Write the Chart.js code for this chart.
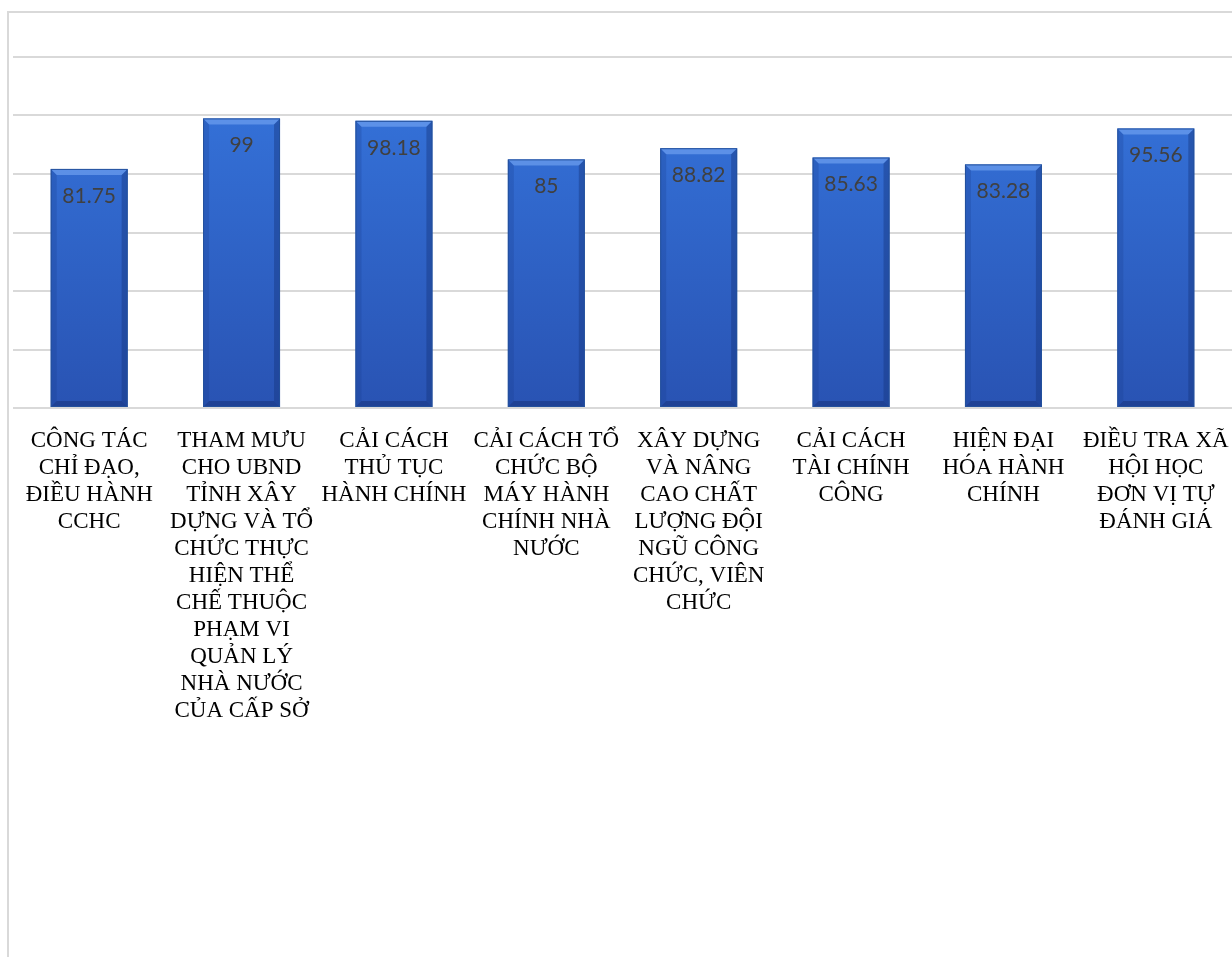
<!DOCTYPE html>
<html>
<head>
<meta charset="utf-8">
<script src="https://cdn.jsdelivr.net/npm/chart.js@4.4.1/dist/chart.umd.min.js"></script>
<style>
  html, body { margin: 0; padding: 0; background: #fff; overflow: hidden; }
  #frame {
    position: absolute; left: 7px; top: 11px; width: 1300px; height: 1000px;
    border-left: 2px solid #d9d9d9; border-top: 2px solid #d9d9d9;
  }
  #wrap { position: absolute; left: 13px; top: 13px; width: 1219px; height: 944px; }
</style>
</head>
<body>
<div id="frame"></div>
<div id="wrap"><canvas id="myChart"></canvas></div>
<script>
// categories (line breaks as in the picture)
var categories = [
  ['CÔNG TÁC', 'CHỈ ĐẠO,', 'ĐIỀU HÀNH', 'CCHC'],
  ['THAM MƯU', 'CHO UBND', 'TỈNH XÂY', 'DỰNG VÀ TỔ', 'CHỨC THỰC', 'HIỆN THỂ', 'CHẾ THUỘC', 'PHẠM VI', 'QUẢN LÝ', 'NHÀ NƯỚC', 'CỦA CẤP SỞ'],
  ['CẢI CÁCH', 'THỦ TỤC', 'HÀNH CHÍNH'],
  ['CẢI CÁCH TỔ', 'CHỨC BỘ', 'MÁY HÀNH', 'CHÍNH NHÀ', 'NƯỚC'],
  ['XÂY DỰNG', 'VÀ NÂNG', 'CAO CHẤT', 'LƯỢNG ĐỘI', 'NGŨ CÔNG', 'CHỨC, VIÊN', 'CHỨC'],
  ['CẢI CÁCH', 'TÀI CHÍNH', 'CÔNG'],
  ['HIỆN ĐẠI', 'HÓA HÀNH', 'CHÍNH'],
  ['ĐIỀU TRA XÃ', 'HỘI HỌC', 'ĐƠN VỊ TỰ', 'ĐÁNH GIÁ']
];
var scores = [81.75, 99, 98.18, 85, 88.82, 85.63, 83.28, 95.56];
var scoreText = ['81.75', '99', '98.18', '85', '88.82', '85.63', '83.28', '95.56'];

var yMin = 0, yMax = 120, yStep = 20;

function barFill(context) {
  var chart = context.chart;
  var area = chart.chartArea;
  if (!area) return '#2f66cc';
  var g = chart.ctx.createLinearGradient(0, area.top, 0, area.bottom);
  g.addColorStop(0, '#3676de');
  g.addColorStop(1, '#2953b3');
  return g;
}

// bevel look + value labels drawn on top of the bars
var bevelPlugin = {
  id: 'bevel',
  afterDatasetsDraw: function(chart) {
    var ctx = chart.ctx;
    var meta = chart.getDatasetMeta(0);
    meta.data.forEach(function(bar, i) {
      var w = bar.width, x0 = bar.x - w / 2, x1 = bar.x + w / 2;
      var top = bar.y, bot = bar.base;
      var b = 6;
      ctx.save();
      // top bevel
      ctx.fillStyle = 'rgba(110,160,240,0.7)';
      ctx.beginPath();
      ctx.moveTo(x0, top); ctx.lineTo(x1, top);
      ctx.lineTo(x1 - b, top + b); ctx.lineTo(x0 + b, top + b);
      ctx.closePath(); ctx.fill();
      // left edge
      ctx.fillStyle = 'rgba(25,60,140,0.25)';
      ctx.beginPath();
      ctx.moveTo(x0, top); ctx.lineTo(x0 + b, top + b);
      ctx.lineTo(x0 + b, bot - b); ctx.lineTo(x0, bot);
      ctx.closePath(); ctx.fill();
      // right edge
      ctx.fillStyle = 'rgba(20,50,120,0.4)';
      ctx.beginPath();
      ctx.moveTo(x1, top); ctx.lineTo(x1 - b, top + b);
      ctx.lineTo(x1 - b, bot - b); ctx.lineTo(x1, bot);
      ctx.closePath(); ctx.fill();
      // bottom edge
      ctx.fillStyle = 'rgba(20,45,110,0.45)';
      ctx.beginPath();
      ctx.moveTo(x0, bot); ctx.lineTo(x0 + b, bot - b);
      ctx.lineTo(x1 - b, bot - b); ctx.lineTo(x1, bot);
      ctx.closePath(); ctx.fill();
      ctx.strokeStyle = '#23509c';
      ctx.lineWidth = 1;
      ctx.strokeRect(x0 + 0.5, top + 0.5, w - 1, bot - top - 1);
      // value label
      ctx.fillStyle = '#404040';
      ctx.font = '21px Lato';
      ctx.textAlign = 'center';
      ctx.textBaseline = 'middle';
      ctx.fillText(scoreText[i], bar.x, top + 27);
      ctx.restore();
    });
  }
};

var data = {
  labels: categories,
  datasets: [{
    data: scores,
    backgroundColor: barFill,
    borderWidth: 0,
    barPercentage: 0.505,
    categoryPercentage: 1
  }]
};

var config = {
  type: 'bar',
  data: data,
  options: {
    responsive: true,
    maintainAspectRatio: false,
    animation: false,
    layout: { padding: { top: 44, left: 0, right: 0, bottom: 0 } },
    plugins: { legend: { display: false }, tooltip: { enabled: false } },
    scales: {
      x: {
        grid: { display: false, drawTicks: false },
        border: { display: false },
        ticks: {
          color: '#000',
          font: { family: 'Liberation Serif', size: 23, lineHeight: 1.175 },
          padding: 19,
          maxRotation: 0,
          autoSkip: false
        },
        afterFit: function(s) {
          s.height = 944 - 395;
          s.paddingLeft = 0;
          s.paddingRight = 0;
        }
      },
      y: {
        min: yMin, max: yMax,
        ticks: { display: false, stepSize: yStep },
        grid: { color: '#d9d9d9', lineWidth: 2, drawTicks: false },
        border: { display: false },
        afterFit: function(s) { s.width = 0; }
      }
    }
  },
  plugins: [bevelPlugin]
};

var myChart = new Chart(document.getElementById('myChart'), config);
</script>
</body>
</html>
